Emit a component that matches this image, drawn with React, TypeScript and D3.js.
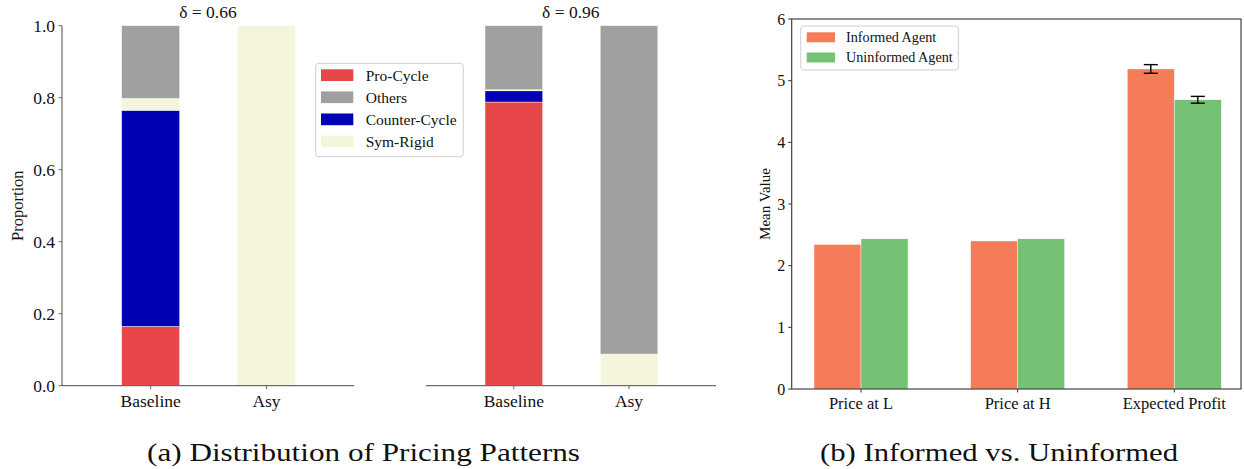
import React from "react";
import * as d3 from "d3";

// ---------- Data ----------
const patternCats = ["Baseline", "Asy"];
// stacking order bottom -> top
const stackKeys = ["Pro-Cycle", "Counter-Cycle", "Sym-Rigid", "Others"];
const legendKeys = ["Pro-Cycle", "Others", "Counter-Cycle", "Sym-Rigid"];
const patternColors: Record<string, string> = {
  "Pro-Cycle": "#e8474a",
  Others: "#a0a0a0",
  "Counter-Cycle": "#0000b5",
  "Sym-Rigid": "#f5f5dc",
};
// delta = 0.66
const d066ProCycle = [0.165, 0.0];
const d066CounterCycle = [0.6, 0.0];
const d066SymRigid = [0.033, 1.0];
const d066Others = [0.202, 0.0];
// delta = 0.96
const d096ProCycle = [0.788, 0.0];
const d096CounterCycle = [0.031, 0.0];
const d096SymRigid = [0.003, 0.088];
const d096Others = [0.178, 0.912];

const panelTitles = ["δ = 0.66", "δ = 0.96"];
const propTicks = [0, 0.2, 0.4, 0.6, 0.8, 1.0];

const agentCats = ["Price at L", "Price at H", "Expected Profit"];
const informedVals = [2.345, 2.4, 5.19];
const uninformedVals = [2.435, 2.435, 4.69];
const informedErr = [0, 0, 0.07];
const uninformedErr = [0, 0, 0.055];
const agentSeries = ["Informed Agent", "Uninformed Agent"];
const agentColors = ["#f47c58", "#75c274"];
const valueTicks = [0, 1, 2, 3, 4, 5, 6];

const captions = ["(a) Distribution of Pricing Patterns", "(b) Informed vs. Uninformed"];

const FONT = "'Liberation Serif', 'Times New Roman', serif";

function StackPanel({
  x0, x1, title, data, showY,
}: {
  x0: number; x1: number; title: string; data: Record<string, number[]>; showY: boolean;
}) {
  const y = d3.scaleLinear().domain([0, 1]).range([385.7, 25.7]);
  const x = d3.scaleLinear().domain([-0.765, 1.755]).range([x0, x1]);
  const bw = 0.5;
  const spine = "#6b6b6b";
  return (
    <g>
      {patternCats.map((c, i) => {
        let acc = 0;
        return (
          <g key={c}>
            {stackKeys.map((k) => {
              const v = data[k][i];
              const y0 = acc;
              acc += v;
              if (v <= 0) return null;
              return (
                <rect
                  key={k}
                  x={x(i - bw / 2)}
                  width={x(i + bw / 2) - x(i - bw / 2)}
                  y={y(y0 + v)}
                  height={y(y0) - y(y0 + v)}
                  fill={patternColors[k]}
                  stroke="#ffffff"
                  strokeWidth={0.4}
                />
              );
            })}
          </g>
        );
      })}
      {/* bottom spine */}
      <line x1={x0} x2={x1} y1={y(0)} y2={y(0)} stroke={spine} strokeWidth={1.2} />
      {patternCats.map((c, i) => (
        <g key={c}>
          <line x1={x(i)} x2={x(i)} y1={y(0)} y2={y(0) + 3.5} stroke={spine} strokeWidth={1} />
          <text x={x(i)} y={407} textAnchor="middle" fontSize={17.5} fontFamily={FONT} fill="#111">
            {c}
          </text>
        </g>
      ))}
      {showY && (
        <g>
          <line x1={x0} x2={x0} y1={y(0)} y2={y(1)} stroke={spine} strokeWidth={1.2} />
          {propTicks.map((t) => (
            <g key={t}>
              <line x1={x0 - 3.5} x2={x0} y1={y(t)} y2={y(t)} stroke={spine} strokeWidth={1} />
              <text x={x0 - 7} y={y(t)} dy="0.35em" textAnchor="end" fontSize={17.5} fontFamily={FONT} fill="#111">
                {t.toFixed(1)}
              </text>
            </g>
          ))}
          <text
            transform={`translate(23,${(y(0) + y(1)) / 2}) rotate(-90)`}
            textAnchor="middle"
            fontSize={16.5}
            fontFamily={FONT}
            fill="#111"
          >
            Proportion
          </text>
        </g>
      )}
      <text x={(x0 + x1) / 2} y={18} textAnchor="middle" fontSize={17.5} fontFamily={FONT} fill="#111">
        {title}
      </text>
    </g>
  );
}

function AgentPanel() {
  const L = 791.7, R = 1241, T = 19, B = 389;
  const y = d3.scaleLinear().domain([0, 6]).range([B, T]);
  const x = d3.scaleLinear().domain([0, 2]).range([861, 1174.3]);
  const bw = 0.3;
  const series = [informedVals, uninformedVals];
  const errs = [informedErr, uninformedErr];
  const offsets = [-bw / 2, bw / 2];
  const spine = "#333";
  return (
    <g>
      {series.map((vals, s) =>
        vals.map((v, i) => {
          const cx = i + offsets[s];
          return (
            <rect
              key={`${s}-${i}`}
              x={x(cx - bw / 2)}
              width={x(cx + bw / 2) - x(cx - bw / 2)}
              y={y(v)}
              height={y(0) - y(v)}
              fill={agentColors[s]}
              stroke="#ffffff"
              strokeWidth={0.4}
            />
          );
        })
      )}
      {series.map((vals, s) =>
        vals.map((v, i) => {
          const e = errs[s][i];
          if (!e) return null;
          const cx = x(i + offsets[s]);
          return (
            <g key={`e${s}-${i}`} stroke="#000" strokeWidth={1.4}>
              <line x1={cx} x2={cx} y1={y(v - e)} y2={y(v + e)} />
              <line x1={cx - 7} x2={cx + 7} y1={y(v - e)} y2={y(v - e)} />
              <line x1={cx - 7} x2={cx + 7} y1={y(v + e)} y2={y(v + e)} />
            </g>
          );
        })
      )}
      <rect x={L} y={T} width={R - L} height={B - T} fill="none" stroke={spine} strokeWidth={1.1} />
      {valueTicks.map((t) => (
        <g key={t}>
          <line x1={L - 3.5} x2={L} y1={y(t)} y2={y(t)} stroke={spine} strokeWidth={1} />
          <text x={L - 6.5} y={y(t)} dy="0.35em" textAnchor="end" fontSize={16} fontFamily={FONT} fill="#111">
            {t}
          </text>
        </g>
      ))}
      {agentCats.map((c, i) => (
        <g key={c}>
          <line x1={x(i)} x2={x(i)} y1={B} y2={B + 3.5} stroke={spine} strokeWidth={1} />
          <text x={x(i)} y={409} textAnchor="middle" fontSize={16.5} fontFamily={FONT} fill="#111">
            {c}
          </text>
        </g>
      ))}
      <text
        transform={`translate(770,${(T + B) / 2}) rotate(-90)`}
        textAnchor="middle"
        fontSize={15}
        fontFamily={FONT}
        fill="#111"
      >
        Mean Value
      </text>
      {/* legend */}
      <rect x={800.7} y={26} width={157.6} height={44} rx={3} fill="#fff" fillOpacity={0.8} stroke="#d0d0d0" strokeWidth={1} />
      {agentSeries.map((s, i) => (
        <g key={s}>
          <rect x={806.7} y={32.3 + i * 20.2} width={28.3} height={10} fill={agentColors[i]} />
          <text x={846} y={37.3 + i * 20.2} dy="0.35em" fontSize={14.2} fontFamily={FONT} fill="#111">
            {s}
          </text>
        </g>
      ))}
    </g>
  );
}

export default function App() {
  const d066 = {
    "Pro-Cycle": d066ProCycle,
    "Counter-Cycle": d066CounterCycle,
    "Sym-Rigid": d066SymRigid,
    Others: d066Others,
  };
  const d096 = {
    "Pro-Cycle": d096ProCycle,
    "Counter-Cycle": d096CounterCycle,
    "Sym-Rigid": d096SymRigid,
    Others: d096Others,
  };
  return (
    <svg
      width={1244}
      height={469}
      style={{ position: "absolute", left: 0, top: 0, background: "#fff" }}
    >
      <rect x={0} y={0} width={1244} height={469} fill="#fff" />
      <StackPanel x0={62} x1={354} title={panelTitles[0]} data={d066} showY={true} />
      <StackPanel x0={425.7} x1={716} title={panelTitles[1]} data={d096} showY={false} />
      {/* legend panel a */}
      <rect x={315.7} y={63.3} width={147.6} height={93.4} rx={3} fill="#fff" fillOpacity={0.8} stroke="#d0d0d0" strokeWidth={1} />
      {legendKeys.map((k, i) => (
        <g key={k}>
          <rect x={321} y={69.3 + i * 22.1} width={32.3} height={11.7} fill={patternColors[k]} />
          <text x={365.7} y={75.2 + i * 22.1} dy="0.35em" fontSize={15.5} fontFamily={FONT} fill="#111">
            {k}
          </text>
        </g>
      ))}
      <AgentPanel />
      <text x={363.5} y={461} textAnchor="middle" fontSize={25} fontFamily={FONT} fill="#111"
        textLength={433} lengthAdjust="spacingAndGlyphs">
        {captions[0]}
      </text>
      <text x={999} y={461} textAnchor="middle" fontSize={25} fontFamily={FONT} fill="#111"
        textLength={358} lengthAdjust="spacingAndGlyphs">
        {captions[1]}
      </text>
    </svg>
  );
}
